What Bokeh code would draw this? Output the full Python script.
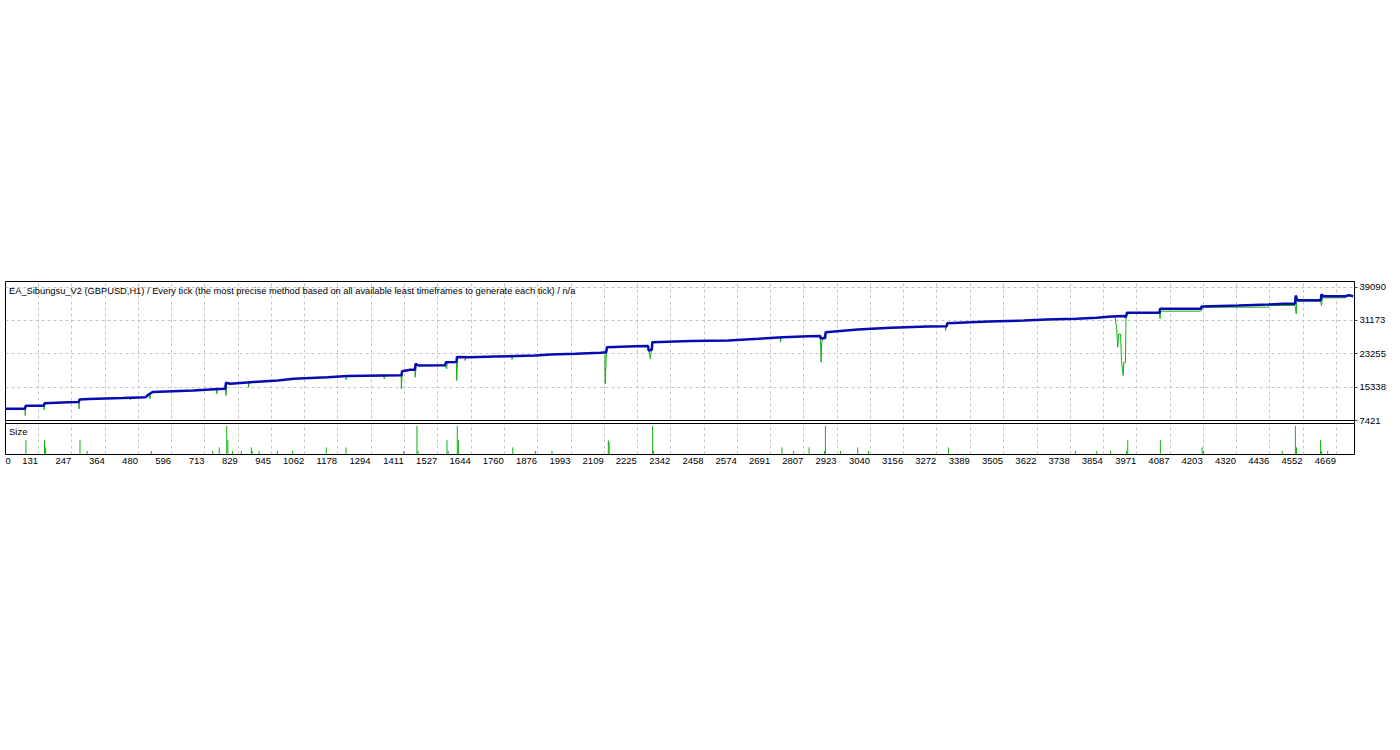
from bokeh.plotting import figure
from bokeh.models import Range1d, FixedTicker, Label, BoxAnnotation
from bokeh.embed import file_html
from bokeh.resources import INLINE

title_text = ("EA_Sibungsu_V2 (GBPUSD,H1) / Every tick (the most precise method based on all "
              "available least timeframes to generate each tick) / n/a")

x_tick_values = [131, 247, 364, 480, 596, 713, 829, 945, 1062, 1178, 1294, 1411, 1527, 1644,
                 1760, 1876, 1993, 2109, 2225, 2342, 2458, 2574, 2691, 2807, 2923, 3040, 3156,
                 3272, 3389, 3505, 3622, 3738, 3854, 3971, 4087, 4203, 4320, 4436, 4552, 4669]
y_tick_values = [7421, 15338, 23255, 31173, 39090]

# balance (blue)
bal_x = [15, 84, 86, 150, 152, 236, 272, 274, 306, 425, 505, 516, 530, 673, 760, 784, 786, 802,
         872, 967, 1023, 1141, 1211, 1337, 1400, 1402, 1431, 1447, 1449, 1460, 1553, 1555, 1592,
         1594, 1641, 1729, 1868, 1921, 2008, 2096, 2116, 2118, 2218, 2262, 2264, 2275, 2277, 2410,
         2543, 2648, 2732, 2823, 2864, 2866, 2881, 2883, 2995, 3110, 3239, 3306, 3308, 3452, 3575,
         3655, 3760, 3830, 3882, 3926, 3932, 3936, 4050, 4052, 4195, 4197, 4326, 4431, 4483, 4524,
         4526, 4532, 4614, 4616, 4622, 4700, 4712, 4727]
bal_y = [10200, 10200, 10910, 10950, 11530, 11770, 11800, 12410, 12530, 12765, 12955, 13600, 14190,
         14546, 14900, 14950, 16375, 16140, 16520, 16920, 17325, 17705, 17990, 18100, 18150, 19130,
         19460, 19500, 20890, 20480, 20550, 21270, 21300, 22500, 22450, 22620, 22860, 23100, 23260,
         23500, 23640, 24830, 25070, 25100, 24050, 24200, 26020, 26300, 26420, 26820, 27200, 27440,
         27480, 26900, 27000, 28390, 29030, 29430, 29740, 29800, 30530, 30930, 31170, 31410, 31570,
         31810, 32120, 32240, 31950, 33000, 33000, 33950, 33950, 34500, 34730, 34970, 35130, 35130,
         37110, 35990, 36000, 37350, 36940, 36940, 37200, 36950]

# equity (green)
eq_x = [15, 84, 84.5, 86, 150, 151, 152, 236, 272, 273, 274, 306, 425, 451, 452, 453, 505, 516,
        521, 523, 530, 673, 754, 754.5, 756, 784, 787, 789, 802, 865, 865.5, 867, 967, 1023, 1141,
        1206, 1206.5, 1208, 1337, 1340, 1342, 1399, 1399.5, 1403, 1431, 1447, 1448, 1451, 1553,
        1558, 1560, 1592, 1593, 1596, 1622, 1623, 1625, 1729, 1786, 1786.5, 1788, 1868, 1921, 2008,
        2096, 2111, 2112, 2116, 2118, 2218, 2262, 2270, 2277, 2410, 2543, 2648, 2724, 2725, 2727,
        2823, 2864, 2867, 2869, 2883, 2995, 3110, 3239, 3301, 3302, 3305, 3308, 3452, 3575, 3655,
        3760, 3830, 3882, 3895, 3900, 3904, 3907, 3914, 3917, 3923, 3925, 3931, 3933, 3942, 4025,
        4027, 4050, 4052, 4054, 4192, 4197, 4200, 4431, 4433, 4524, 4528, 4530, 4614, 4616, 4620,
        4700, 4703, 4727]
eq_y = [10200, 10200, 8610, 10910, 10950, 9960, 11530, 11770, 11800, 10200, 12410, 12530, 12765,
        12700, 12300, 12700, 12955, 13600, 12570, 14100, 14190, 14546, 14850, 13760, 14850, 14950,
        13360, 16200, 16140, 16450, 15330, 16500, 16920, 17325, 17705, 17950, 17100, 17990, 18050,
        17330, 18100, 18150, 14950, 19130, 19460, 19500, 17700, 20480, 20550, 19700, 21270, 21300,
        16920, 22450, 22450, 21670, 22450, 22620, 22700, 21900, 22720, 22860, 23100, 23260, 23500,
        23640, 16140, 23000, 24830, 25070, 25100, 22070, 26020, 26300, 26420, 26820, 27150, 26020,
        27200, 27440, 27480, 21270, 26000, 28390, 29030, 29430, 29740, 29800, 28800, 29800, 30530,
        30930, 31170, 31410, 31570, 31810, 32120, 31950, 29400, 24830, 27950, 27950, 21670, 18110,
        21200, 21200, 32000, 32830, 32830, 33000, 33000, 31570, 33380, 33380, 33540, 34330, 34330,
        34730, 34730, 32760, 35750, 35750, 34730, 36560, 36560, 36940, 36940]

# lot size bars
size_x = [87, 152, 156, 276, 301, 525, 740, 763, 789, 793, 809, 840, 875, 878, 902, 966, 1019,
          1137, 1206, 1408, 1454, 1458, 1559, 1563, 1595, 1599, 1789, 1868, 1926, 2123, 2126,
          2278, 2281, 2730, 2771, 2825, 2879, 2882, 2935, 2995, 3033, 3312, 3756, 3831, 3879,
          3935, 3939, 4053, 4199, 4204, 4479, 4525, 4529, 4613, 4616, 4638]
size_lots = [0.4, 0.4, 0.2, 0.4, 0.1, 0.1, 0.1, 0.2, 0.8, 0.4, 0.1, 0.1, 0.2, 0.1, 0.1, 0.1, 0.1,
             0.2, 0.2, 0.1, 0.8, 0.1, 0.4, 0.1, 0.8, 0.4, 0.2, 0.1, 0.1, 0.4, 0.35,
             0.8, 0.1, 0.2, 0.1, 0.2, 0.1, 0.8, 0.1, 0.2, 0.1, 0.2, 0.1, 0.1, 0.1,
             0.1, 0.4, 0.4, 0.2, 0.1, 0.1, 0.8, 0.2, 0.4, 0.1, 0.1]

FONT = "Liberation Sans"
FS = "9.5px"
TITLE_FS = "9.3px"
DIGIT_W = 5.28       # px width of one digit at FS
BLUE = "#0a0ab4"
GREEN = "#12b012"
GRID = "#c4c4c4"

# geometry (pixels)
LEFT, TOP, RIGHT_B, BOTTOM_B = 5, 281, 41, 20
FRAME_W = 1349
MAIN_H = 139        # main panel height
GAP = 3             # gap between the two panels
SIZE_H = 31         # size panel height
FRAME_H = MAIN_H + GAP + SIZE_H

X0, X1 = 15.6, 4731.7
dxpp = (X1 - X0) / FRAME_W
Y_BASE, Y_TOP = 7421, 40433
ypp = (Y_TOP - Y_BASE) / MAIN_H
Y0 = Y_BASE - (GAP + SIZE_H) * ypp
S_PANEL = 0.87
spp = S_PANEL / SIZE_H
S_END = FRAME_H * spp

p = figure(width=LEFT + FRAME_W + RIGHT_B, height=TOP + FRAME_H + BOTTOM_B,
           x_range=Range1d(X0, X1), y_range=Range1d(Y0, Y_TOP),
           output_backend="svg", toolbar_location=None,
           min_border_left=LEFT, min_border_right=RIGHT_B, min_border_top=TOP,
           min_border_bottom=BOTTOM_B, y_axis_location="right")
p.extra_y_ranges = {"size": Range1d(0, S_END)}
p.background_fill_color = "white"
p.border_fill_color = "white"
p.outline_line_color = "black"
p.outline_line_width = 1
p.outline_line_alpha = 1

# y axis (right)
p.yaxis.ticker = FixedTicker(ticks=y_tick_values)
p.yaxis.axis_line_color = None
p.yaxis.major_tick_out = 3
p.yaxis.major_tick_in = 0
p.yaxis.major_tick_line_color = "#444444"
p.yaxis.minor_tick_line_color = None
p.yaxis.major_label_standoff = 2
p.yaxis.major_label_text_font = FONT
p.yaxis.major_label_text_font_size = FS
p.yaxis.major_label_text_color = "black"
p.ygrid.ticker = FixedTicker(ticks=y_tick_values[1:])
p.ygrid.grid_line_color = GRID
p.ygrid.grid_line_dash = "3 3"

# x axis (below): labels sit just left of their grid line, as in the terminal's chart
label_pos = [int(round(t - (len(str(t)) * DIGIT_W / 2 + 0.5) * dxpp)) for t in x_tick_values]
zero_pos = int(round(X0 + 2.7 * dxpp))
p.xaxis.ticker = FixedTicker(ticks=[zero_pos] + label_pos)
overrides = {zero_pos: "0"}
for pos, t in zip(label_pos, x_tick_values):
    overrides[pos] = str(t)
p.xaxis.major_label_overrides = overrides
p.xaxis.axis_line_color = None
p.xaxis.major_tick_line_color = None
p.xaxis.minor_tick_line_color = None
p.xaxis.major_tick_out = 0
p.xaxis.major_tick_in = 0
p.xaxis.major_label_standoff = 3
p.xaxis.major_label_text_font = FONT
p.xaxis.major_label_text_font_size = FS
p.xaxis.major_label_text_color = "black"
p.xgrid.ticker = FixedTicker(ticks=x_tick_values)
p.xgrid.grid_line_color = GRID
p.xgrid.grid_line_dash = "3 3"

# lines
p.line(eq_x, eq_y, line_color=GREEN, line_width=1)
p.line(bal_x, bal_y, line_color=BLUE, line_width=2.5)

# separator between the two panels
p.add_layout(BoxAnnotation(top=Y_BASE, bottom=Y_BASE - GAP * ypp, fill_color="white",
                           fill_alpha=1, line_color="black", line_width=1, line_alpha=1))

# size bars
p.segment(x0=size_x, y0=[0] * len(size_x), x1=size_x, y1=size_lots, line_color=GREEN,
          line_width=1, y_range_name="size")

p.add_layout(Label(x=X0 + 3.5 * dxpp, y=Y_TOP - 9 * ypp, text=title_text, text_font=FONT,
                   text_font_size=TITLE_FS, text_baseline="middle", text_color="black"))
p.add_layout(Label(x=X0 + 3.5 * dxpp, y=S_PANEL - 8 * spp, text="Size", text_font=FONT,
                   text_font_size=FS, text_baseline="middle", text_color="black",
                   y_range_name="size"))

open("out.html", "w").write(file_html(p, INLINE))
